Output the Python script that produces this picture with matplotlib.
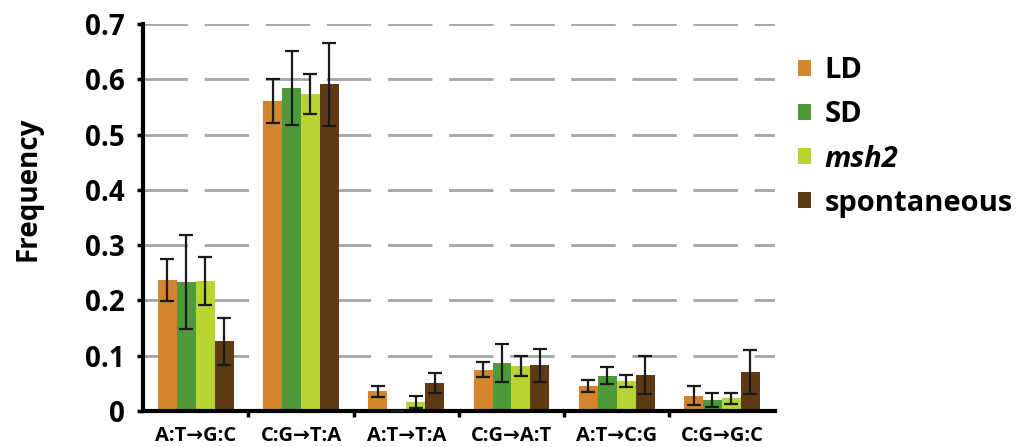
import matplotlib.pyplot as plt
import numpy as np

categories = ['A:T→G:C', 'C:G→T:A', 'A:T→T:A', 'C:G→A:T', 'A:T→C:G', 'C:G→G:C']
series = ['LD', 'SD', 'msh2', 'spontaneous']
ld = [0.237, 0.561, 0.036, 0.075, 0.046, 0.028]
sd = [0.233, 0.585, 0.0, 0.087, 0.064, 0.020]
msh2 = [0.235, 0.573, 0.016, 0.081, 0.055, 0.023]
spont = [0.126, 0.591, 0.050, 0.083, 0.065, 0.070]
ld_err = [0.038, 0.040, 0.010, 0.014, 0.011, 0.018]
sd_err = [0.085, 0.067, 0.0, 0.035, 0.016, 0.013]
msh2_err = [0.043, 0.036, 0.011, 0.018, 0.011, 0.010]
spont_err = [0.042, 0.075, 0.018, 0.030, 0.034, 0.040]

colors = ['#D4842A', '#4E9A3A', '#B8D432', '#5E3A14']
values = [ld, sd, msh2, spont]
errors = [ld_err, sd_err, msh2_err, spont_err]

plt.rcParams['font.family'] = ['Open Sans', 'DejaVu Sans']

fig = plt.figure(figsize=(10.3, 4.47), dpi=100)
ax = fig.add_axes([0.139, 0.0805, 0.613, 0.8655])

x = np.arange(len(categories))
w = 0.18
for i in range(4):
    pos = x + (i - 1.5) * w
    ax.bar(pos, values[i], w, color=colors[i], zorder=2, label=series[i])
    ax.errorbar(pos, values[i], yerr=errors[i], fmt='none', ecolor='#1a1a1a',
                elinewidth=1.6, capsize=5, capthick=1.6, zorder=3)

ax.set_xlim(-0.5, 5.5)
ax.set_ylim(0, 0.7)
ax.set_yticks(np.arange(0, 0.71, 0.1))
ax.set_yticklabels(['0', '0.1', '0.2', '0.3', '0.4', '0.5', '0.6', '0.7'],
                   fontsize=20, fontweight='bold')
ax.set_xticks(x)
ax.set_xticklabels(categories, fontsize=14.5, fontweight='bold')
ax.set_xticks(np.arange(0.5, 5.5, 1), minor=True)
ax.tick_params(axis='x', which='major', length=0, pad=11)
ax.tick_params(axis='x', which='minor', length=4, width=2.5)
ax.tick_params(axis='y', length=4, width=2.5, pad=9)

ax.yaxis.grid(True, linestyle=(0, (16, 6)), color='#A4A4A4', linewidth=2, zorder=0)
ax.set_axisbelow(True)

ax.spines['top'].set_visible(False)
ax.spines['right'].set_visible(False)
ax.spines['left'].set_linewidth(3)
ax.spines['bottom'].set_linewidth(3)

ax.set_ylabel('Frequency', fontsize=20, fontweight='bold')
ax.yaxis.set_label_coords(-0.16, 0.574)

leg = ax.legend(loc='upper left', bbox_to_anchor=(0.996, 0.985), frameon=False,
                handlelength=0.45, handleheight=0.45, handletextpad=0.45,
                labelspacing=0.52, prop={'weight': 'bold', 'size': 21})
leg.get_texts()[2].set_style('italic')

fig.savefig('out.png', dpi=100)
